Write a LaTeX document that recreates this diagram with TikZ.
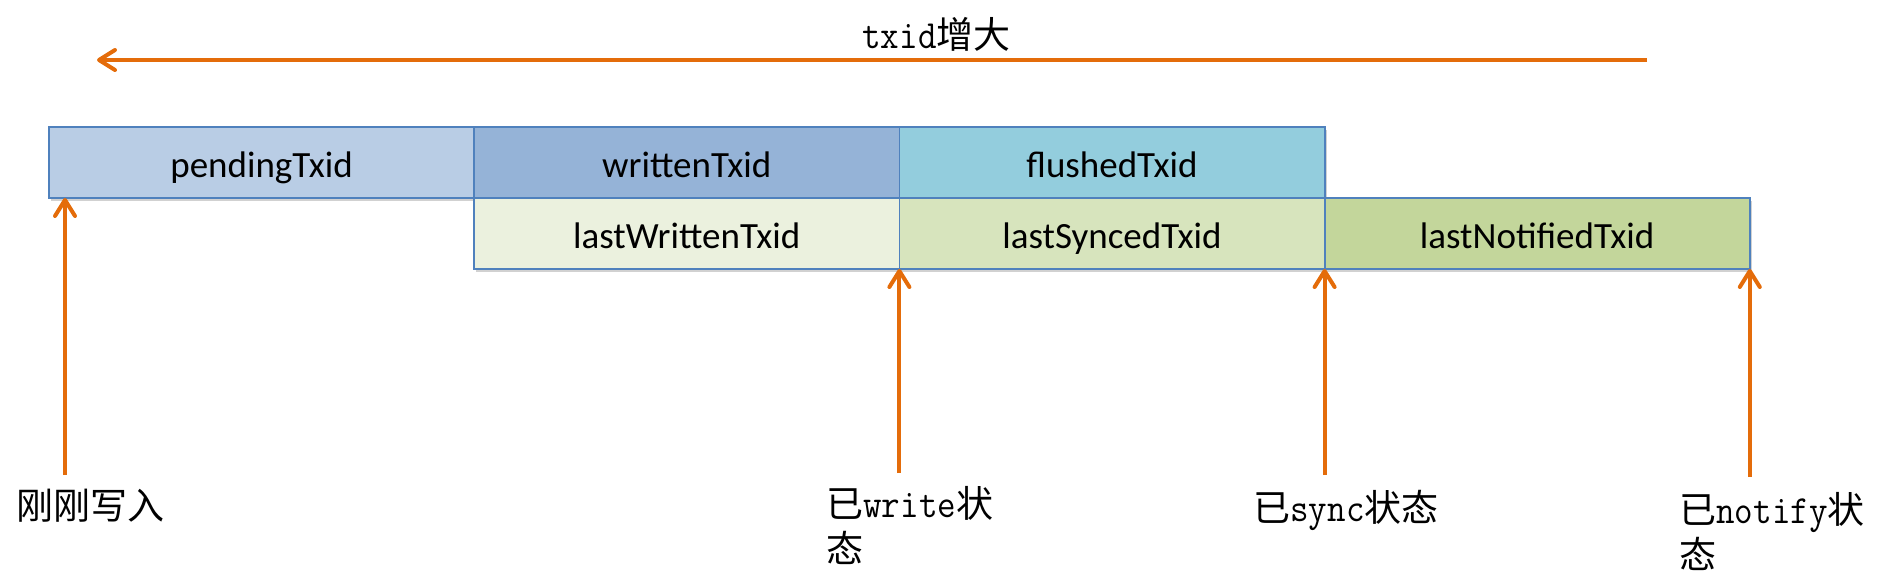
\documentclass[tikz,border=0pt]{standalone}
\usepackage{fontspec}
\setmainfont{Carlito}
\newfontfamily\cjk{Noto Sans CJK SC}
\newfontfamily\monof[FakeStretch=0.9]{Latin Modern Mono}
\usetikzlibrary{arrows.meta,shadows}
\definecolor{arrorange}{RGB}{228,108,10}
\definecolor{boxborder}{RGB}{79,129,189}
\definecolor{cpend}{RGB}{185,205,229}
\definecolor{cwrit}{RGB}{149,179,215}
\definecolor{cflush}{RGB}{147,205,221}
\definecolor{clastw}{RGB}{235,241,222}
\definecolor{clasts}{RGB}{215,228,189}
\definecolor{clastn}{RGB}{195,214,155}
\newcommand{\zh}[1]{{\cjk #1}}
\newcommand{\mylat}[1]{{\monof\fontsize{20}{22.5}\selectfont #1}}
\begin{document}
\begin{tikzpicture}[x=0.5pt,y=-0.5pt,
  cell/.style={draw=boxborder, line width=0.9pt, anchor=north west,
    minimum width=212.6pt, minimum height=35.5pt, inner sep=0pt, outer sep=0pt,
    text height=19.1pt, text depth=4.6pt,
    font=\fontsize{18.5}{22}\selectfont,
    drop shadow={shadow xshift=1pt, shadow yshift=-1.5pt, opacity=0.18, fill=black}},
  arr/.style={draw=arrorange, line width=2pt,
    -{Straight Barb[length=8pt,width=10pt,round]}},
  lbl/.style={anchor=base west, inner sep=0pt, align=left,
    font=\fontsize{18.5}{22.5}\selectfont}
]
\useasboundingbox (0,0) rectangle (1891,580);

% top arrow
\coordinate (tr) at (1647,60);
\coordinate (tl) at (97,60);
\draw[arr] (tr) -- (tl);
\node[lbl] (title) at (862,48) {\mylat{txid}\zh{增大}};

% boxes
\node[cell, fill=cpend] (pend) at (49,127) {pendingTxid};
\node[cell, fill=cwrit] (writ) at (pend.north east) {writtenTxid};
\node[cell, fill=cflush] (flush) at (writ.north east) {flushedTxid};
\node[cell, fill=clastw] (lastw) at (writ.south west) {lastWrittenTxid};
\node[cell, fill=clasts] (lasts) at (lastw.north east) {lastSyncedTxid};
\node[cell, fill=clastn] (lastn) at (lasts.north east) {lastNotifiedTxid};

% vertical arrows
\path (pend.south west) ++(16,277) coordinate (b1);
\path (lastw.south east) ++(0,204) coordinate (b2);
\path (lasts.south east) ++(0,206) coordinate (b3);
\path (lastn.south east) ++(0,208) coordinate (b4);
\draw[arr] (b1) -- (b1 |- pend.south);
\draw[arr] (b2) -- (lastw.south east);
\draw[arr] (b3) -- (lasts.south east);
\draw[arr] (b4) -- (lastn.south east);

% labels
\node[lbl] (l1) at (16,519) {\zh{刚刚写入}};
\node[lbl] (l2) at (826,562) {\zh{已}\mylat{write}\zh{状}\\\zh{态}};
\node[lbl] (l3) at (1253,521) {\zh{已}\mylat{sync}\zh{状态}};
\node[lbl] (l4) at (1679,568) {\zh{已}\mylat{notify}\zh{状}\\\zh{态}};
\end{tikzpicture}
\end{document}
